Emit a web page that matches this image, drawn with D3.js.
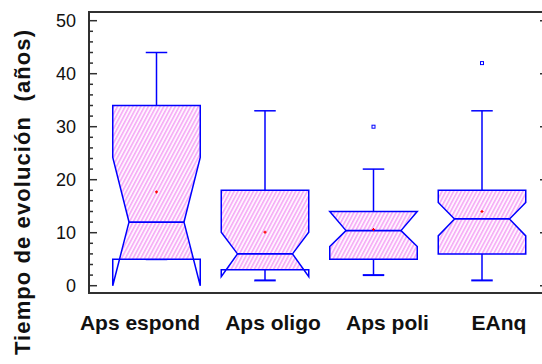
<!DOCTYPE html>
<html>
<head>
<meta charset="utf-8">
<script src="https://cdn.jsdelivr.net/npm/d3@7"></script>
<style>
  html, body { margin: 0; padding: 0; background: #fff; }
  svg { display: block; }
</style>
</head>
<body>
<svg id="chart" width="542" height="364"></svg>
<script>
// Groups and their box-plot statistics (years of evolution)
const categories   = ["Aps espond", "Aps oligo", "Aps poli", "EAnq"];
const whiskerLow   = [5, 1, 2, 1];
const quartile1    = [5, 3, 5, 6];
const medians      = [12, 6, 10.4, 12.6];
const quartile3    = [34, 18, 14, 18];
const whiskerHigh  = [44, 33, 22, 33];
const notchLow     = [0, 1.7, 7.4, 9.4];
const notchHigh    = [24.2, 10.1, 14, 15.7];
const means        = [17.7, 10.1, 10.6, 14];
const outliers     = [[], [], [30], [42]];
const yTicks       = [0, 10, 20, 30, 40, 50];

const svg = d3.select("#chart");
const frame = { left: 89, right: 546, top: 12, bottom: 293 };

const x = d3.scalePoint().domain(categories).range([156.5, 482]);
const y = d3.scaleLinear().domain([0, 50]).range([285.7, 20.7]);

const boxW = 87.5, notchW = 55, capW = 21.5;
const blue = "#0000ff";

// hatched fill
const defs = svg.append("defs");
const pat = defs.append("pattern")
  .attr("id", "hatch").attr("patternUnits", "userSpaceOnUse")
  .attr("width", 3.4).attr("height", 10)
  .attr("patternTransform", "rotate(28)");
pat.append("rect").attr("width", 3.4).attr("height", 10).attr("fill", "#fff4ff");
pat.append("line").attr("x1", 0.8).attr("x2", 0.8).attr("y1", 0).attr("y2", 10)
  .attr("stroke", "#f28cf2").attr("stroke-width", 1.1);

const rows = categories.map((c, i) => ({
  c, i, lo: whiskerLow[i], q1: quartile1[i], med: medians[i], q3: quartile3[i],
  hi: whiskerHigh[i], nlo: notchLow[i], nhi: notchHigh[i], mean: means[i], out: outliers[i]
}));

function outline(d) {
  const cx = x(d.c), L = cx - boxW / 2, R = cx + boxW / 2;
  const mL = cx - notchW / 2, mR = cx + notchW / 2;
  return [
    [L, y(d.q3)], [L, y(d.nhi)], [mL, y(d.med)], [L, y(d.nlo)], [L, y(d.q1)],
    [R, y(d.q1)], [R, y(d.nlo)], [mR, y(d.med)], [R, y(d.nhi)], [R, y(d.q3)]
  ];
}
const line = d3.line();

// clip the fill to the inter-quartile band
rows.forEach(d => {
  defs.append("clipPath").attr("id", "clip" + d.i)
    .append("rect")
    .attr("x", x(d.c) - boxW / 2 - 2).attr("width", boxW + 4)
    .attr("y", y(d.q3)).attr("height", y(d.q1) - y(d.q3));
});

const g = svg.append("g");

// whiskers
rows.forEach(d => {
  const cx = x(d.c);
  const wg = g.append("g").attr("stroke", blue).attr("stroke-width", 1.5);
  wg.append("line").attr("x1", cx).attr("x2", cx).attr("y1", y(d.q3)).attr("y2", y(d.hi));
  wg.append("line").attr("x1", cx - capW / 2).attr("x2", cx + capW / 2).attr("y1", y(d.hi)).attr("y2", y(d.hi));
  wg.append("line").attr("x1", cx).attr("x2", cx).attr("y1", y(d.q1)).attr("y2", y(d.lo));
  wg.append("line").attr("x1", cx - capW / 2).attr("x2", cx + capW / 2).attr("y1", y(d.lo)).attr("y2", y(d.lo))
    .attr("stroke-width", 2);
});

// notched boxes
rows.forEach(d => {
  const pts = outline(d);
  g.append("path").attr("d", line(pts) + "Z")
    .attr("fill", "url(#hatch)").attr("stroke", "none")
    .attr("clip-path", `url(#clip${d.i})`);
  g.append("path").attr("d", line(pts) + "Z")
    .attr("fill", "none").attr("stroke", blue).attr("stroke-width", 1.5)
    .attr("stroke-linejoin", "miter");
  const cx = x(d.c);
  g.append("line").attr("x1", cx - notchW / 2).attr("x2", cx + notchW / 2)
    .attr("y1", y(d.med)).attr("y2", y(d.med))
    .attr("stroke", blue).attr("stroke-width", 1.8);
});

// means
rows.forEach(d => {
  const cx = x(d.c), cy = y(d.mean);
  g.append("path").attr("d", `M${cx - 1.5},${cy}H${cx + 1.5}M${cx},${cy - 1.5}V${cy + 1.5}`)
    .attr("stroke", "#ff0000").attr("stroke-width", 1.2);
});

// outliers
rows.forEach(d => {
  d.out.forEach(v => {
    g.append("rect").attr("x", x(d.c) - 1.5).attr("y", y(v) - 1.5)
      .attr("width", 3).attr("height", 3)
      .attr("fill", "#fff").attr("stroke", blue).attr("stroke-width", 1);
  });
});

// frame
svg.append("rect")
  .attr("x", frame.left).attr("y", frame.top)
  .attr("width", frame.right - frame.left).attr("height", frame.bottom - frame.top)
  .attr("fill", "none").attr("stroke", "#303030").attr("stroke-width", 2);

// left axis: inward ticks, minor every 2
const axisG = svg.append("g").attr("stroke", "#303030").attr("stroke-width", 1.5);
d3.range(0, 50.001, 2).forEach(v => {
  const major = v % 10 === 0;
  axisG.append("line").attr("x1", frame.left).attr("x2", frame.left + (major ? 8 : 4))
    .attr("y1", y(v)).attr("y2", y(v));
});
// right axis: inward major ticks
yTicks.forEach(v => {
  axisG.append("line").attr("x1", frame.right).attr("x2", frame.right - 6)
    .attr("y1", y(v)).attr("y2", y(v));
});

svg.append("g").selectAll("text").data(yTicks).join("text")
  .attr("x", 76).attr("y", v => y(v)).attr("dy", "0.35em")
  .attr("text-anchor", "end")
  .attr("font-family", "Liberation Sans, Arial, sans-serif")
  .attr("font-size", 18).attr("fill", "#111")
  .text(v => v);

// category labels
const labelShift = [-16.5, 8, 14, 17];
svg.append("g").selectAll("text").data(categories).join("text")
  .attr("x", (c, i) => x(c) + labelShift[i]).attr("y", 330)
  .attr("text-anchor", "middle")
  .attr("font-family", "Liberation Sans, Arial, sans-serif")
  .attr("font-weight", "bold").attr("font-size", 21).attr("fill", "#111")
  .text(c => c);

// y-axis title
svg.append("text")
  .attr("transform", "translate(30,355) rotate(-90)")
  .attr("text-anchor", "start")
  .attr("font-family", "Liberation Sans, Arial, sans-serif")
  .attr("font-weight", "bold").attr("font-size", 22).attr("fill", "#111")
  .attr("xml:space", "preserve")
  .attr("textLength", 325).attr("lengthAdjust", "spacing")
  .text("Tiempo de evolución  (años)");
</script>
</body>
</html>
